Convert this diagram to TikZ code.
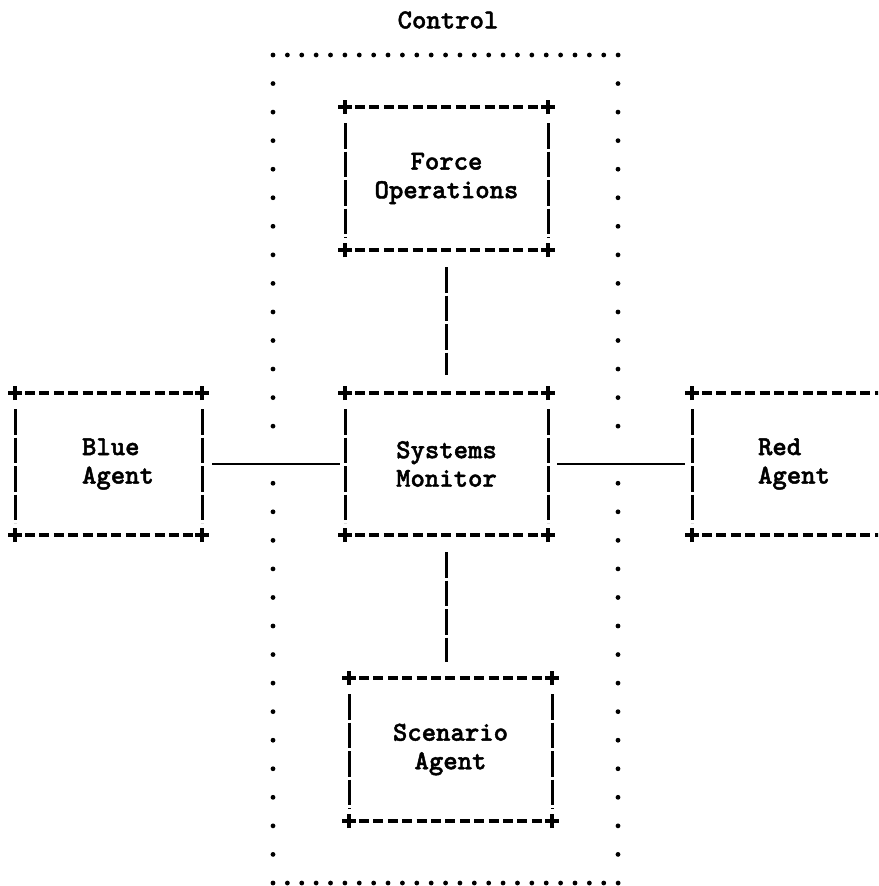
\documentclass[tikz,border=0pt]{standalone}
\usepackage{fontspec}
\newfontfamily\ttyfam[FakeBold=1.6]{lmmonolt10-bold.otf}

\newcommand{\ttyfont}{\fontsize{27.4}{28.55}\selectfont\ttyfam}

\tikzset{
  ttybox/.style={minimum width=203pt, minimum height=143pt, inner sep=0pt, outer sep=0pt,
    align=center, font=\ttyfont},
  ttyagent/.style={ttybox, minimum width=187pt, minimum height=142pt, align=left},
  ttyh/.style={line width=3.3pt, dash pattern=on 10pt off 4.4pt},
  ttyv/.style={line width=3pt, dash pattern=on 25.5pt off 3pt},
  ttyplus/.style={line width=3.8pt},
  ttylink/.style={line width=2.6pt},
  ctrldot/.style={fill=black},
}

% typewriter frame: dashes, bars and a plus at each corner
\newcommand{\ttyframe}[1]{%
  \draw[ttyh] ([xshift=10pt]#1.north west) -- ([xshift=-8pt]#1.north east);
  \draw[ttyh] ([xshift=10pt]#1.south west) -- ([xshift=-8pt]#1.south east);
  \draw[ttyv] ([yshift=-16pt]#1.north west) -- ([yshift=12pt]#1.south west);
  \draw[ttyv] ([yshift=-16pt]#1.north east) -- ([yshift=12pt]#1.south east);
  \foreach \c in {north west, north east, south west, south east}
    \draw[ttyplus] (#1.\c) +(-7pt,0) -- +(7pt,0) +(0,-7pt) -- +(0,7pt);
}

\begin{document}
\begin{tikzpicture}[x=1pt, y=-1pt]
  \useasboundingbox (0,0) rectangle (878,886);
  \clip (0,0) rectangle (878,886);

  \node[font=\ttyfont] (control) at (448,20) {Control};

  % dotted Control area
  \foreach \i in {0,...,24} {
    \fill[ctrldot] (273+\i*14.38, 55) circle (2.4pt);
    \fill[ctrldot] (273+\i*14.38, 883) circle (2.4pt);
  }
  \foreach \k in {1,...,28} {
    \ifnum\k=14 \else
      \fill[ctrldot] (273, 55+\k*28.55) circle (2.4pt);
      \fill[ctrldot] (618, 55+\k*28.55) circle (2.4pt);
    \fi
  }

  \node[ttybox] (force) at (446.5,178.5) {Force\\Operations};
  \node[ttybox, minimum height=142pt] (sysmon) at (446.5,464) {Systems\\Monitor};
  \node[ttybox] (scenario) at (450.5,749.5) {Scenario\\Agent};
  \node[ttyagent] (blue) at (108.5,464) {\hspace*{19pt}Blue\\\hspace*{19pt}Agent};
  \node[ttyagent, minimum width=200pt] (red) at (792,464) {\hspace*{4pt}Red\\\hspace*{4pt}Agent};

  \ttyframe{force}
  \ttyframe{sysmon}
  \ttyframe{scenario}
  \ttyframe{blue}
  \ttyframe{red}

  \draw[ttyv, shorten <=17pt, shorten >=18pt] (force.south) -- (sysmon.north);
  \draw[ttyv, shorten <=17pt, shorten >=16pt] (sysmon.south) -- (sysmon.south |- scenario.north);
  \draw[ttylink, shorten <=10pt, shorten >=5pt] (blue.east) -- (sysmon.west);
  \draw[ttylink, shorten <=9pt, shorten >=7pt] (sysmon.east) -- (red.west);
\end{tikzpicture}
\end{document}
